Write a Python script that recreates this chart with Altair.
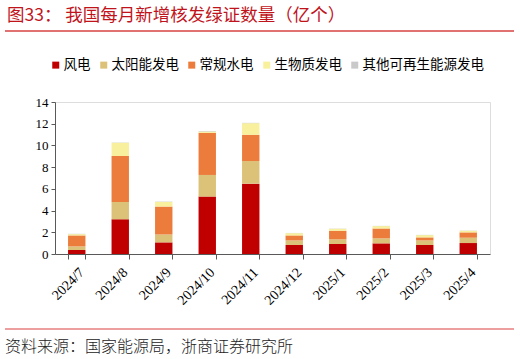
import altair as alt
import pandas as pd

months = ["2024/7", "2024/8", "2024/9", "2024/10", "2024/11",
          "2024/12", "2025/1", "2025/2", "2025/3", "2025/4"]
wind = [0.37, 3.21, 1.07, 5.29, 6.48, 0.83, 0.92, 0.98, 0.83, 1.01]
solar = [0.33, 1.59, 0.73, 1.99, 2.08, 0.42, 0.43, 0.46, 0.42, 0.49]
hydro = [1.01, 4.22, 2.57, 3.88, 2.42, 0.46, 0.79, 0.91, 0.28, 0.49]
biomass = [0.12, 1.22, 0.43, 0.12, 1.07, 0.21, 0.18, 0.22, 0.21, 0.15]
other = [0.03, 0.03, 0.03, 0.05, 0.03, 0.02, 0.02, 0.02, 0.02, 0.02]
series = ["风电", "太阳能发电", "常规水电", "生物质发电", "其他可再生能源发电"]
colors = ["#C00000", "#DCC178", "#EC7C3C", "#F8F09C", "#C9C9C9"]
y_ticks = [0, 2, 4, 6, 8, 10, 12, 14]

title_text = "图33： 我国每月新增核发绿证数量（亿个）"
source_text = "资料来源：国家能源局，浙商证券研究所"

rows = []
for si, (name, vals) in enumerate(zip(series, [wind, solar, hydro, biomass, other])):
    for m, v in zip(months, vals):
        rows.append({"month": m, "series": name, "value": v, "order": si})
df = pd.DataFrame(rows)

bars = alt.Chart(df).mark_bar().encode(
    x=alt.X("month:N", sort=months,
            scale=alt.Scale(paddingInner=0.6, paddingOuter=0.3),
            axis=alt.Axis(title=None, labelAngle=-45, labelFont="Liberation Serif",
                          labelFontSize=14, labelColor="#000000", tickBand="extent",
                          tickSize=5, tickColor="#595959", domainColor="#595959",
                          labelPadding=6)),
    y=alt.Y("value:Q", stack="zero",
            scale=alt.Scale(domain=[0, 14], nice=False),
            axis=alt.Axis(title=None, values=y_ticks, grid=False,
                          labelFont="Liberation Serif", labelFontSize=13,
                          labelColor="#000000", tickSize=4, tickColor="#595959",
                          domainColor="#595959", labelPadding=3)),
    color=alt.Color("series:N", sort=series,
                    scale=alt.Scale(domain=series, range=colors),
                    legend=alt.Legend(title=None, orient="none", direction="horizontal",
                                      legendX=-6, legendY=-44,
                                      symbolType="square", symbolSize=49,
                                      symbolStrokeWidth=0, labelFont="Noto Sans CJK SC",
                                      labelFontSize=13.5, labelColor="#000000",
                                      columnPadding=6, labelOffset=1)),
    order=alt.Order("order:Q", sort="ascending"),
)

one = pd.DataFrame({"t": [title_text]})
title = alt.Chart(one).mark_text(
    align="left", baseline="middle", font="Noto Sans CJK SC", fontSize=17.5,
    color="#C0141C"
).encode(text="t:N", x=alt.value(-48), y=alt.value(-86))

top_rule = alt.Chart(one).mark_rule(color="#E07272", strokeWidth=2).encode(
    x=alt.value(-50), x2=alt.value(459), y=alt.value(-71))

bottom_rule = alt.Chart(one).mark_rule(color="#D9403F", strokeWidth=1.2).encode(
    x=alt.value(-50), x2=alt.value(459), y=alt.value(227))

src = pd.DataFrame({"t": [source_text]})
source = alt.Chart(src).mark_text(
    align="left", baseline="middle", font="Noto Sans CJK SC", fontSize=16,
    fontWeight=300, color="#222222"
).encode(text="t:N", x=alt.value(-50), y=alt.value(245))

chart = alt.layer(bars, title, top_rule, bottom_rule, source).properties(
    width=435, height=152,
    autosize=alt.AutoSizeParams(type="none"),
    padding={"left": 55, "top": 102, "right": 30, "bottom": 105},
).configure_view(stroke=None).configure(background="white")

chart.save("out.html", embed_options={"renderer": "svg", "actions": False})
